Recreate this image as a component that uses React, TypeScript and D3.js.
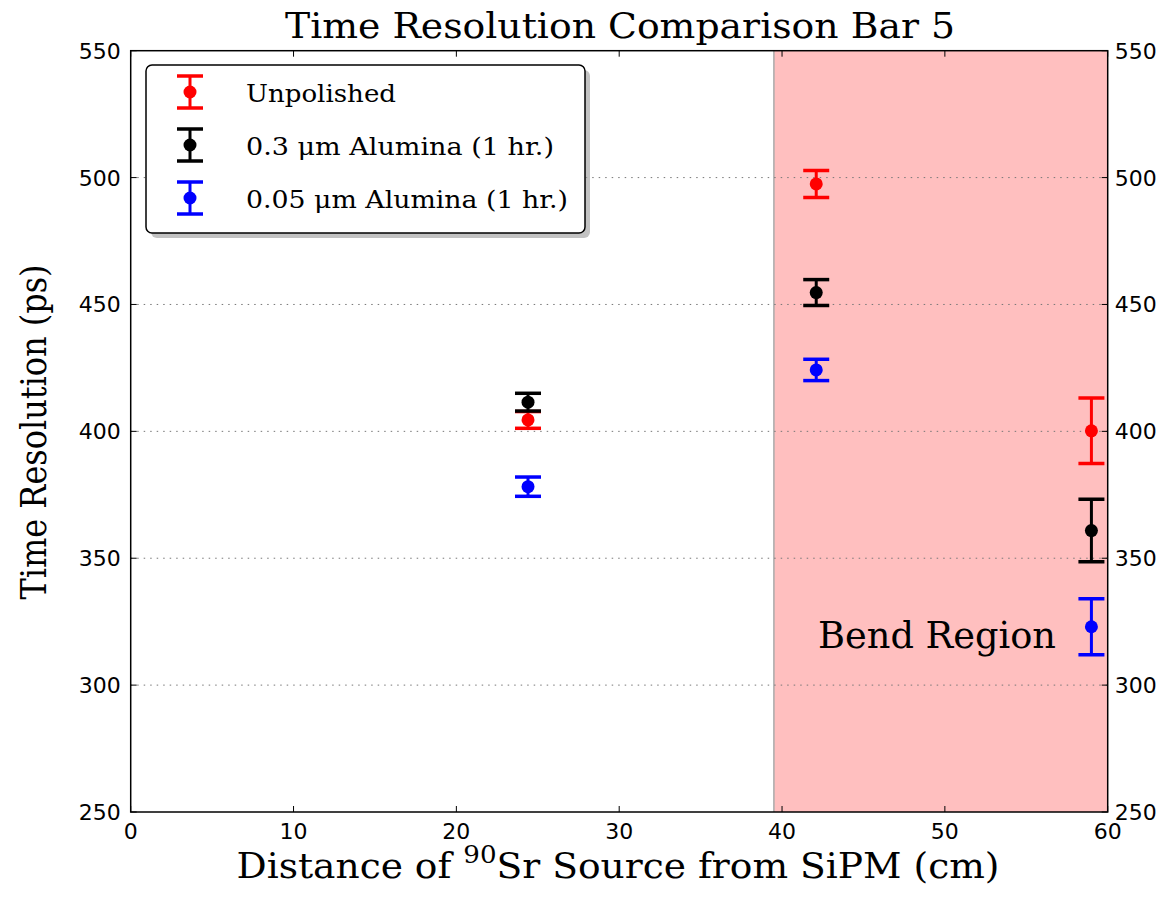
import React from "react";
import * as d3 from "d3";

const seriesNames = ["Unpolished", "0.3 \u03bcm Alumina (1 hr.)", "0.05 \u03bcm Alumina (1 hr.)"];
const seriesColors = ["#ff0000", "#000000", "#0000ff"];
const distances = [24.4, 42.1, 59.0];
const unpolished = [404.5, 497.5, 400.2];
const unpolishedErr = [3.3, 5.3, 12.9];
const alumina03 = [411.5, 454.7, 360.9];
const alumina03Err = [3.5, 5.1, 12.3];
const alumina005 = [378.2, 424.2, 323.0];
const alumina005Err = [3.8, 4.2, 11.0];
const yTicks = [250, 300, 350, 400, 450, 500, 550];
const xTicks = [0, 10, 20, 30, 40, 50, 60];
const gridTicks = [300, 350, 400, 450, 500];
const bendStart = 39.5;
const bendEnd = 60;

const W = 1163, H = 902;
const left = 130.7, right = 1107.7, top = 50.7, bottom = 812;

export default function App() {
  const x = d3.scaleLinear().domain([0, 60]).range([left, right]);
  const y = d3.scaleLinear().domain([250, 550]).range([bottom, top]);
  const series = [
    { vals: unpolished, errs: unpolishedErr },
    { vals: alumina03, errs: alumina03Err },
    { vals: alumina005, errs: alumina005Err },
  ];
  const serif = "'DejaVu Serif', 'Liberation Serif', serif";
  const sans = "'DejaVu Sans', sans-serif";
  const cap = 13;

  const errMark = (cx: number, cy: number, lo: number, hi: number, color: string, key: string) => (
    <g key={key}>
      <line x1={cx} x2={cx} y1={lo} y2={hi} stroke={color} strokeWidth={3} />
      <line x1={cx - cap} x2={cx + cap} y1={lo} y2={lo} stroke={color} strokeWidth={3.5} />
      <line x1={cx - cap} x2={cx + cap} y1={hi} y2={hi} stroke={color} strokeWidth={3.5} />
      <circle cx={cx} cy={cy} r={6.5} fill={color} />
    </g>
  );

  return (
    <svg width={W} height={H} style={{ position: "absolute", left: 0, top: 0 }}>
      <rect width={W} height={H} fill="#ffffff" />
      <defs>
        <clipPath id="plotclip">
          <rect x={left} y={top} width={right - left} height={bottom - top} />
        </clipPath>
      </defs>
      {/* bend region */}
      <rect x={x(bendStart)} y={top} width={x(bendEnd) - x(bendStart)} height={bottom - top} fill="#ffbfbf" />
      <line x1={x(bendStart)} x2={x(bendStart)} y1={top} y2={bottom} stroke="#aaaaaa" strokeWidth={1.5} />
      {/* grid */}
      {gridTicks.map((t) => (
        <line key={"g" + t} x1={left} x2={right} y1={y(t)} y2={y(t)} stroke="#777" strokeWidth={1} strokeDasharray="1.5,5" />
      ))}
      {/* data */}
      <g clipPath="url(#plotclip)">
        {series.map((s, si) =>
          distances.map((d, i) =>
            errMark(x(d), y(s.vals[i]), y(s.vals[i] - s.errs[i]), y(s.vals[i] + s.errs[i]), seriesColors[si], `${si}-${i}`)
          )
        )}
      </g>
      {/* frame */}
      <rect x={left} y={top} width={right - left} height={bottom - top} fill="none" stroke="#000" strokeWidth={1.5} />
      {/* ticks */}
      {xTicks.map((t) => (
        <g key={"x" + t}>
          <line x1={x(t)} x2={x(t)} y1={bottom} y2={bottom - 6} stroke="#000" />
          <line x1={x(t)} x2={x(t)} y1={top} y2={top + 6} stroke="#000" />
          <text x={x(t)} y={bottom + 27} textAnchor="middle" fontFamily={sans} fontSize={22} fill="#000">{t}</text>
        </g>
      ))}
      {yTicks.map((t) => (
        <g key={"y" + t}>
          <line x1={left} x2={left + 6} y1={y(t)} y2={y(t)} stroke="#000" />
          <line x1={right} x2={right - 6} y1={y(t)} y2={y(t)} stroke="#000" />
          <text x={left - 10} y={y(t) + 8} textAnchor="end" fontFamily={sans} fontSize={22} fill="#000">{t}</text>
          <text x={right + 7} y={y(t) + 8} textAnchor="start" fontFamily={sans} fontSize={22} fill="#000">{t}</text>
        </g>
      ))}
      {/* Bend region label */}
      <text x={1056} y={648} textAnchor="end" fontFamily={serif} fontSize={37} fill="#000" textLength={238} lengthAdjust="spacingAndGlyphs">Bend Region</text>
      {/* legend */}
      <rect x={151} y={70} width={439} height={168} rx={6} fill="#999" opacity={0.6} />
      <rect x={146} y={65} width={439} height={168} rx={6} fill="#fff" stroke="#000" strokeWidth={1.5} />
      {seriesNames.map((n, i) => {
        const cy = 92 + i * 53;
        const lens = [150, 308, 322];
        return (
          <g key={"l" + i}>
            <line x1={190} x2={190} y1={cy - 16} y2={cy + 16} stroke={seriesColors[i]} strokeWidth={3} />
            <line x1={177} x2={203} y1={cy - 16} y2={cy - 16} stroke={seriesColors[i]} strokeWidth={3.5} />
            <line x1={177} x2={203} y1={cy + 16} y2={cy + 16} stroke={seriesColors[i]} strokeWidth={3.5} />
            <circle cx={190} cy={cy} r={6.5} fill={seriesColors[i]} />
            <text x={246} y={cy + 10} fontFamily={serif} fontSize={25} fill="#000" textLength={lens[i]} lengthAdjust="spacingAndGlyphs">{n}</text>
          </g>
        );
      })}
      {/* titles */}
      <text x={620} y={38} textAnchor="middle" fontFamily={serif} fontSize={36} fill="#000" textLength={670} lengthAdjust="spacingAndGlyphs">Time Resolution Comparison Bar 5</text>
      <text x={618} y={878} textAnchor="middle" fontFamily={serif} fontSize={36} fill="#000" textLength={763} lengthAdjust="spacingAndGlyphs">
        Distance of <tspan dy={-15} fontSize={25}>90</tspan><tspan dy={15}>Sr Source from SiPM (cm)</tspan>
      </text>
      <text transform={`translate(46, 432) rotate(-90)`} textAnchor="middle" fontFamily={serif} fontSize={35} fill="#000" textLength={335} lengthAdjust="spacingAndGlyphs">Time Resolution (ps)</text>
    </svg>
  );
}
